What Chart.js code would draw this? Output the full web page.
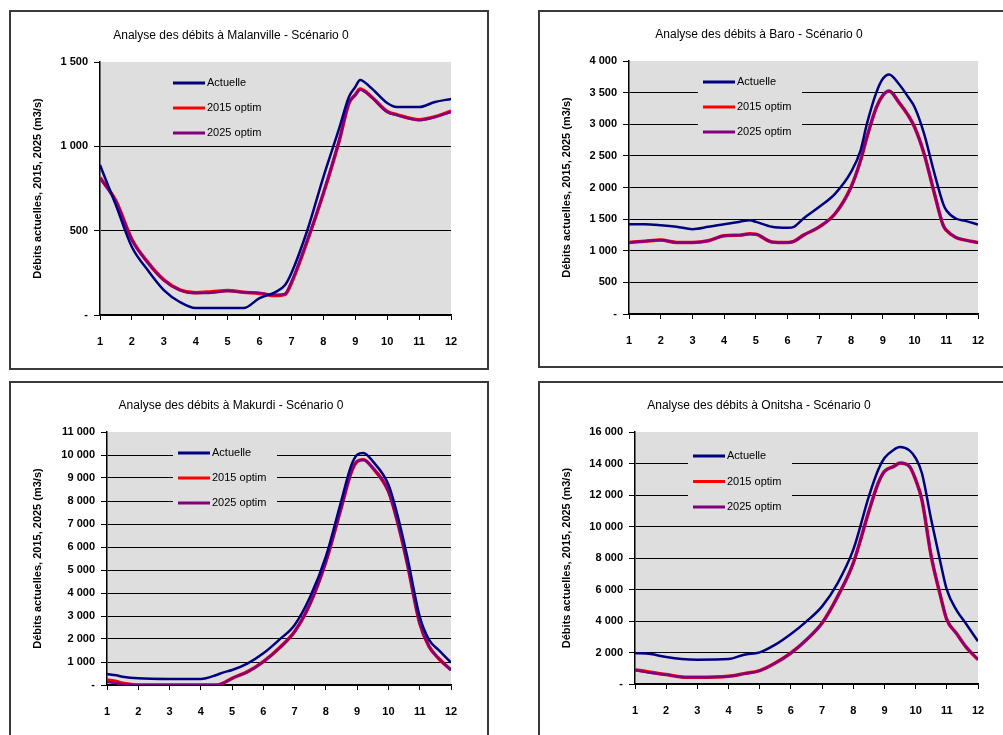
<!DOCTYPE html>
<html>
<head>
<meta charset="utf-8">
<script src="https://cdn.jsdelivr.net/npm/chart.js@4/dist/chart.umd.min.js"></script>
<style>
  html, body { margin: 0; padding: 0; background: #fff; overflow: hidden; }
  body { width: 1003px; height: 735px; position: relative; }
  .frame { position: absolute; border: 2px solid #3a3a3a; box-sizing: border-box; background: #fff; }
  .frame canvas { display: block; }
</style>
</head>
<body>
<script>
// Malanville
const malanvilleX = [1, 1.5, 2, 2.5, 3, 3.5, 4, 4.5, 5, 5.5, 6, 6.5, 6.8, 7, 7.5, 8, 8.5, 8.8, 9, 9.15, 9.5, 10, 10.3, 11, 11.5, 12];
const malanvilleActuelle = [889, 650, 403, 265, 148, 77, 41, 41, 41, 41, 100, 136, 178, 249, 504, 818, 1109, 1293, 1352, 1394, 1346, 1257, 1233, 1233, 1263, 1281];
const malanville2015 = [815, 675, 448, 312, 208, 149, 132, 138, 145, 135, 128, 115, 122, 190, 440, 720, 1035, 1255, 1305, 1340, 1295, 1206, 1188, 1158, 1176, 1208];
const malanville2025 = [812, 672, 445, 310, 207, 148, 130, 132, 142, 135, 130, 118, 125, 196, 445, 723, 1038, 1257, 1305, 1335, 1293, 1204, 1186, 1156, 1174, 1204];

// Baro
const baroX = [1, 1.5, 2, 2.5, 3, 3.5, 4, 4.5, 4.8, 5, 5.5, 6, 6.2, 6.5, 7, 7.5, 8, 8.3, 8.5, 8.8, 9, 9.2, 9.5, 9.8, 10, 10.3, 10.6, 10.9, 11, 11.3, 11.6, 12];
const baroActuelle = [1420, 1420, 1405, 1380, 1341, 1378, 1420, 1460, 1483, 1457, 1378, 1362, 1378, 1510, 1694, 1904, 2246, 2588, 3009, 3508, 3719, 3787, 3640, 3430, 3272, 2851, 2272, 1746, 1641, 1510, 1473, 1415];
const baro2015 = [1131, 1150, 1168, 1131, 1131, 1157, 1236, 1247, 1268, 1262, 1140, 1131, 1150, 1247, 1378, 1589, 2009, 2430, 2798, 3272, 3456, 3524, 3351, 3140, 2956, 2535, 1957, 1404, 1325, 1210, 1168, 1131];
const baro2025 = [1131, 1150, 1168, 1131, 1131, 1157, 1236, 1247, 1265, 1260, 1140, 1131, 1150, 1247, 1378, 1589, 2009, 2430, 2798, 3272, 3456, 3524, 3351, 3140, 2956, 2535, 1957, 1404, 1325, 1210, 1168, 1131];

// Makurdi
const makurdiX = [1, 1.3, 1.5, 2, 3, 4, 4.5, 4.7, 5, 5.5, 6, 6.5, 7, 7.5, 8, 8.5, 8.8, 9, 9.2, 9.5, 10, 10.3, 10.6, 11, 11.3, 11.6, 12];
const makurdiActuelle = [479, 420, 363, 290, 261, 261, 435, 540, 653, 943, 1378, 1959, 2612, 3846, 5587, 8052, 9504, 10012, 10085, 9722, 8706, 7328, 5587, 2975, 1959, 1524, 972];
const makurdi2015 = [218, 150, 80, 0, 0, 0, 0, 73, 290, 580, 1016, 1596, 2322, 3556, 5369, 7763, 9214, 9722, 9794, 9432, 8416, 7037, 5296, 2684, 1669, 1161, 653];
const makurdi2025 = [145, 73, 40, 0, 0, 0, 0, 73, 290, 580, 1016, 1596, 2322, 3556, 5369, 7763, 9214, 9722, 9794, 9432, 8416, 7037, 5296, 2684, 1669, 1161, 653];

// Onitsha
const onitshaX = [1, 1.5, 2, 2.5, 3, 4, 4.5, 5, 5.5, 6, 6.5, 7, 7.5, 8, 8.5, 8.8, 9, 9.3, 9.5, 9.8, 10, 10.2, 10.5, 10.8, 11, 11.3, 11.6, 12];
const onitshaActuelle = [1968, 1900, 1714, 1587, 1545, 1587, 1862, 2010, 2497, 3174, 3978, 4930, 6411, 8527, 11913, 13606, 14346, 14875, 15045, 14833, 14346, 13394, 10432, 7681, 5988, 4719, 3872, 2708];
const onitsha2015 = [910, 740, 600, 450, 430, 490, 660, 850, 1333, 1968, 2814, 3872, 5565, 7681, 10961, 12760, 13500, 13817, 14029, 13817, 12971, 11700, 8104, 5565, 4084, 3237, 2391, 1545];
const onitsha2025 = [868, 720, 592, 444, 423, 487, 656, 846, 1333, 1968, 2814, 3872, 5565, 7681, 10961, 12760, 13500, 13817, 14029, 13817, 12971, 11700, 8104, 5565, 4084, 3237, 2391, 1545];

const seriesNames = ["Actuelle", "2015 optim", "2025 optim"];
const seriesColors = ["#000080", "#ff0000", "#800080"];
const yTitle = "Débits actuelles, 2015, 2025 (m3/s)";

const FONT = "'Liberation Sans', Arial, sans-serif";

const fmt = v => v === 0 ? "-" : String(v).replace(/\B(?=(\d{3})+(?!\d))/g, " ");
const pts = (xs, ys) => xs.map((x, i) => ({ x: x, y: ys[i] }));

const plotBg = {
    id: "plotBg",
    beforeDraw(chart) {
        const a = chart.chartArea;
        const ctx = chart.ctx;
        ctx.save();
        ctx.fillStyle = "#dedede";
        ctx.fillRect(a.left, a.top, a.right - a.left, a.bottom - a.top);
        ctx.restore();
    }
};

// legend drawn inside the plot, box covers the gridlines like in Excel
const innerLegend = {
    id: "innerLegend",
    beforeDatasetsDraw(chart, args, o) {
        const a = chart.chartArea;
        const ctx = chart.ctx;
        ctx.save();
        ctx.fillStyle = "#dedede";
        ctx.fillRect(a.left + o.dx - 5, a.top + o.dy - 13, 104, o.gap * 3);
        ctx.restore();
    },
    afterDatasetsDraw(chart, args, o) {
        const a = chart.chartArea;
        const ctx = chart.ctx;
        ctx.save();
        chart.data.datasets.forEach((ds, i) => {
            const y = a.top + o.dy + i * o.gap;
            const x = a.left + o.dx;
            ctx.strokeStyle = ds.borderColor;
            ctx.lineWidth = 3;
            ctx.beginPath();
            ctx.moveTo(x, y);
            ctx.lineTo(x + 32, y);
            ctx.stroke();
            ctx.fillStyle = "#000";
            ctx.font = "11px " + FONT;
            ctx.textBaseline = "middle";
            ctx.fillText(ds.label, x + 34, y);
        });
        ctx.restore();
    }
};

function build(opt) {
    const [fx, fy, fw, fh] = opt.frame;
    const [pl, pt, pr, pb] = opt.plot;
    const div = document.createElement("div");
    div.className = "frame";
    div.style.left = fx + "px";
    div.style.top = fy + "px";
    div.style.width = fw + "px";
    div.style.height = fh + "px";
    const canvas = document.createElement("canvas");
    const cw = fw - 4, ch = fh - 4;
    canvas.width = cw;
    canvas.height = ch;
    div.appendChild(canvas);
    document.body.appendChild(div);

    const ix = fx + 2, iy = fy + 2;
    const yW = pl - ix;
    const topH = pt - iy;
    const padR = ix + cw - pr;
    const xH = iy + ch - pb;
    const lineH = 14;
    const tTop = opt.titleY - iy - lineH / 2;
    const tBottom = topH - tTop - lineH;
    const ymax = opt.ymax;

    const ys = opt.series;
    const datasets = ys.map((s, i) => ({
        label: seriesNames[i],
        data: pts(opt.x, s),
        borderColor: seriesColors[i],
        borderWidth: i === 1 ? 3.5 : 2.5,
        pointRadius: 0,
        cubicInterpolationMode: "monotone",
        order: i === 0 ? 0 : (i === 2 ? 1 : 2)
    }));

    new Chart(canvas, {
        type: "line",
        data: { datasets: datasets },
        plugins: [plotBg, innerLegend],
        options: {
            responsive: false,
            animation: false,
            layout: { padding: { left: 0, right: padR, top: 0, bottom: 0 } },
            plugins: {
                legend: { display: false },
                tooltip: { enabled: false },
                title: {
                    display: true,
                    text: opt.title,
                    color: "#000",
                    font: { family: FONT, size: 12, weight: "normal", lineHeight: lineH / 12 },
                    padding: { top: tTop, bottom: tBottom }
                },
                innerLegend: opt.legend
            },
            scales: {
                x: {
                    type: "linear",
                    min: 1,
                    max: 12,
                    afterFit: s => { s.height = xH; },
                    ticks: { stepSize: 1, color: "#000", padding: 15, font: { family: FONT, size: 11, weight: "bold" } },
                    grid: { drawOnChartArea: false, drawTicks: true, tickLength: 5, tickColor: "#000", tickWidth: 1 },
                    border: { color: "#000", width: 1.5 }
                },
                y: {
                    min: 0,
                    max: ymax,
                    afterFit: s => { s.width = yW; },
                    ticks: { stepSize: opt.step, color: "#000", padding: 6, callback: v => fmt(v), font: { family: FONT, size: 11, weight: "bold" } },
                    grid: {
                        color: c => (c.tick && c.tick.value === ymax) ? "rgba(0,0,0,0)" : "#000",
                        tickColor: "#000",
                        tickLength: 6,
                        lineWidth: 1
                    },
                    border: { color: "#000", width: 1.5 },
                    title: {
                        display: true,
                        text: yTitle,
                        color: "#000",
                        font: { family: FONT, size: 11, weight: "bold" },
                        padding: { top: 20, bottom: 0 }
                    }
                }
            }
        }
    });
}

build({
    frame: [9, 10, 480, 360],
    plot: [100, 62, 451, 315],
    titleY: 36,
    title: "Analyse des débits à Malanville - Scénario 0",
    x: malanvilleX,
    series: [malanvilleActuelle, malanville2015, malanville2025],
    ymax: 1500, step: 500,
    legend: { dx: 73, dy: 21, gap: 25 }
});

build({
    frame: [538, 10, 472, 358],
    plot: [629, 61, 978, 314],
    titleY: 35,
    title: "Analyse des débits à Baro - Scénario 0",
    x: baroX,
    series: [baroActuelle, baro2015, baro2025],
    ymax: 4000, step: 500,
    legend: { dx: 74, dy: 21, gap: 25 }
});

build({
    frame: [9, 381, 480, 379],
    plot: [107, 432, 451, 685],
    titleY: 406,
    title: "Analyse des débits à Makurdi - Scénario 0",
    x: makurdiX,
    series: [makurdiActuelle, makurdi2015, makurdi2025],
    ymax: 11000, step: 1000,
    legend: { dx: 71, dy: 21, gap: 25 }
});

build({
    frame: [538, 381, 472, 379],
    plot: [635, 432, 978, 684],
    titleY: 406,
    title: "Analyse des débits à Onitsha - Scénario 0",
    x: onitshaX,
    series: [onitshaActuelle, onitsha2015, onitsha2025],
    ymax: 16000, step: 2000,
    legend: { dx: 58, dy: 24, gap: 25.5 }
});
</script>
</body>
</html>
